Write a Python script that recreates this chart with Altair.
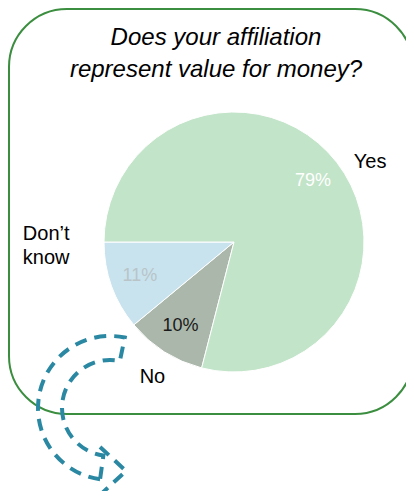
import math
import altair as alt
import pandas as pd

# ---- data ----
categories = ["No", "Don’t know", "Yes"]
values = [10, 11, 79]
pct_labels = ["10%", "11%", "79%"]
outside_labels = ["No", "Don’t\nknow", "Yes"]
slice_order = [0, 1, 2]
slice_colors = ["#aab7aa", "#c8e3ee", "#c2e4c8"]
title_lines = ["Does your affiliation", "represent value for money?"]

df = pd.DataFrame({
    "cat": categories,
    "value": values,
    "pct": pct_labels,
    "out": outside_labels,
    "idx": slice_order,
})
one = pd.DataFrame({"k": [0]})

# ---- layout constants (chart coordinates = page - 8) ----
W, H = 398, 483
CX, CY = 226, 234
R = 130
START = math.radians(194.4)
FONT = "Liberation Sans"
TEAL = "#2a88a3"
GREEN = "#3b8e3f"

theta_scale = alt.Scale(range=[START, START + 2 * math.pi])

base = alt.Chart(df).encode(
    theta=alt.Theta("value:Q", stack=True, scale=theta_scale),
    order=alt.Order("idx:Q"),
)

pie = base.mark_arc(radius=R, stroke="white", strokeWidth=1).encode(
    x=alt.value(CX), y=alt.value(CY),
    color=alt.Color("cat:N", scale=alt.Scale(domain=categories, range=slice_colors), legend=None),
)

pct = base.mark_text(radius=100, fontSize=18, font=FONT).encode(
    x=alt.value(CX), y=alt.value(CY),
    text="pct:N",
    color={
        "condition": [
            {"test": "datum.cat === 'Yes'", "value": "white"},
            {"test": "datum.cat === 'Don’t know'", "value": "#b9c4c8"},
        ],
        "value": "#1a1a1a",
    },
)


def outside(cat, r, off):
    return base.transform_calculate(
        t=f"datum.cat === '{cat}' ? datum.out : ''"
    ).mark_text(
        radius=r, thetaOffset=off, fontSize=20, font=FONT, color="black",
        lineBreak="\n", lineHeight=24,
    ).encode(x=alt.value(CX), y=alt.value(CY), text="t:N")


out_yes = outside("Yes", 158, 0.127)
out_dk = outside("Don’t know", 188, 0.387)
out_no = outside("No", 158, -0.023)

frame = alt.Chart(one).mark_rect(
    fill="white", fillOpacity=0, stroke=GREEN, strokeWidth=2, cornerRadius=58
).encode(x=alt.value(1), x2=alt.value(405), y=alt.value(1), y2=alt.value(406))

arrow_body = alt.Chart(one).mark_arc(
    filled=False, stroke=TEAL, strokeWidth=4, strokeDash=[12, 8],
    radius=72, radius2=48, theta=3.28, theta2=6.49,
).encode(x=alt.value(102), y=alt.value(400))

arrow_head = alt.Chart(one).mark_point(
    shape="M-0.54,-1L0.54,0L-0.54,1", size=2304, filled=False,
    stroke=TEAL, strokeWidth=4, strokeDash=[12, 8], opacity=1,
).encode(x=alt.value(105), y=alt.value(463))

t1 = alt.Chart(one).mark_text(
    text=title_lines[0], font=FONT, fontSize=24, fontStyle="italic",
    align="center", baseline="alphabetic", color="black",
).encode(x=alt.value(208), y=alt.value(37))
t2 = alt.Chart(one).mark_text(
    text=title_lines[1], font=FONT, fontSize=24, fontStyle="italic",
    align="center", baseline="alphabetic", color="black",
).encode(x=alt.value(208), y=alt.value(69))

chart = alt.layer(
    frame, arrow_body, arrow_head, pie, pct, out_yes, out_dk, out_no, t1, t2
).properties(
    width=W, height=H, autosize=alt.AutoSizeParams(type="none"), padding=0
).configure_view(stroke=None)

chart.save("out.html", embed_options={"renderer": "svg", "actions": False})
